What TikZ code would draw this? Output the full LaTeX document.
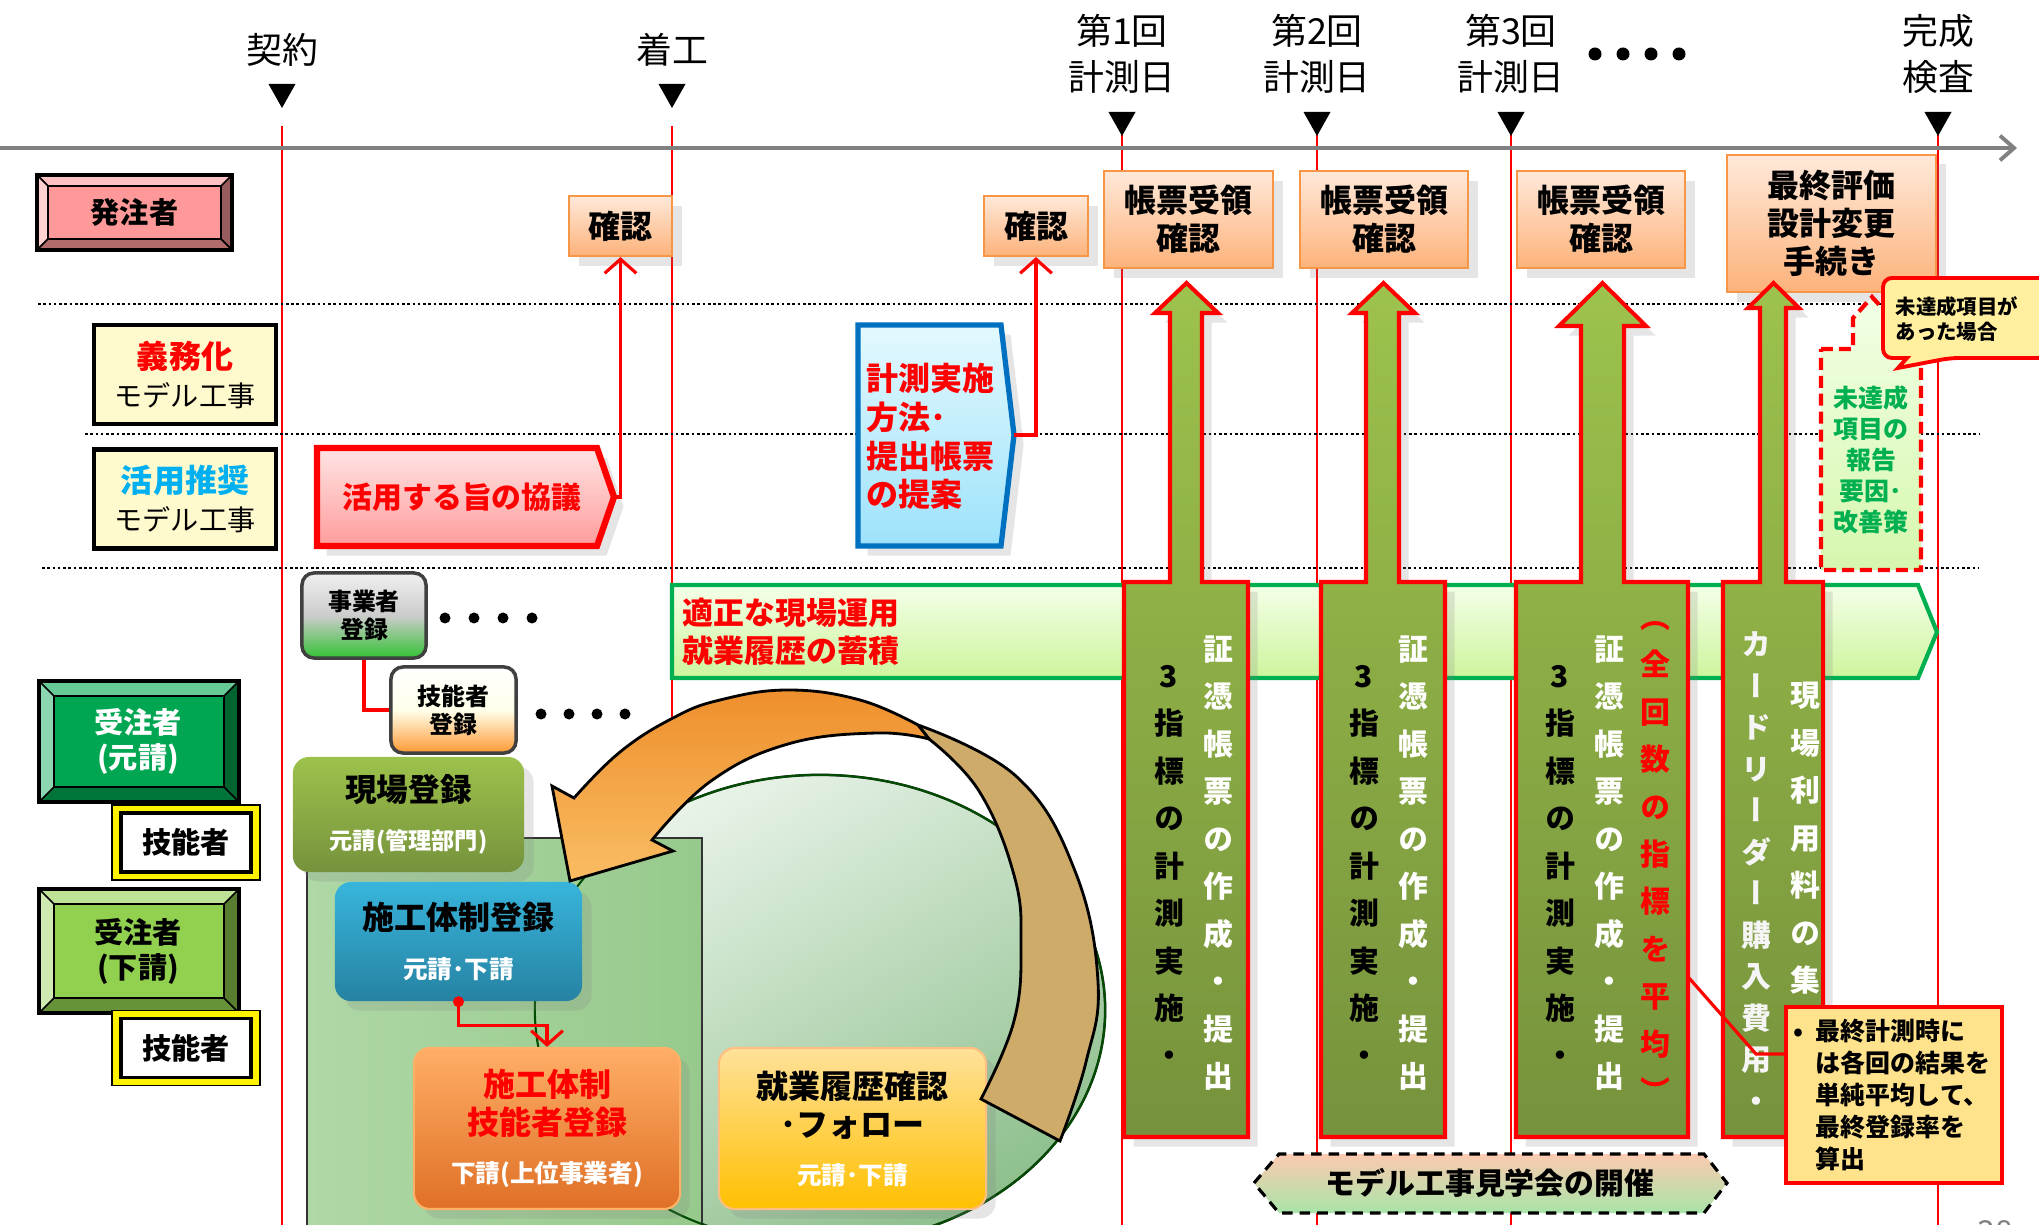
\documentclass[tikz,border=0pt]{standalone}
\usepackage{fontspec}
\setmainfont{Noto Sans CJK JP}
\newfontfamily\vjp{Noto Sans CJK JP}[RawFeature=+vert]
\usetikzlibrary{positioning,arrows.meta,shadows}

\definecolor{tlgray}{HTML}{808080}
\definecolor{hpink}{HTML}{FF9999}
\definecolor{jgreen}{HTML}{00A651}
\definecolor{sgreen}{HTML}{92D050}
\definecolor{modelyel}{HTML}{FFFACD}
\definecolor{skyblue}{HTML}{00B0F0}
\definecolor{peachtop}{HTML}{FFE9DA}
\definecolor{peachbot}{HTML}{FDB27A}
\definecolor{peachedge}{HTML}{F79646}
\definecolor{pinktop}{HTML}{FFE4E4}
\definecolor{pinkbot}{HTML}{FF9C9C}
\definecolor{cyantop}{HTML}{E4F9FF}
\definecolor{cyanbot}{HTML}{9DE2FA}
\definecolor{blueedge}{HTML}{0070C0}
\definecolor{limetop}{HTML}{F4FFE8}
\definecolor{limebot}{HTML}{CDF59C}
\definecolor{limeedge}{HTML}{00B050}
\definecolor{olivetop}{HTML}{9DC24C}
\definecolor{olivebot}{HTML}{76923C}
\definecolor{notefill}{HTML}{FFE38C}
\definecolor{callfill}{HTML}{FFEF9E}
\definecolor{mitop}{HTML}{F2FFE6}
\definecolor{mibot}{HTML}{D6F7AE}
\definecolor{ellwhite}{HTML}{EAF4EA}
\definecolor{ellgreen}{HTML}{8DBF8C}
\definecolor{recttop}{HTML}{AED8A6}
\definecolor{rectbot}{HTML}{97C98C}
\definecolor{oratop}{HTML}{EE8F2C}
\definecolor{orabot}{HTML}{FABD63}
\definecolor{tanfill}{HTML}{CEAB69}
\definecolor{hextop}{HTML}{FCCAB0}
\definecolor{hexbot}{HTML}{A8E4A8}
\definecolor{sekoutop}{HTML}{38B5DC}
\definecolor{sekoubot}{HTML}{2682A2}
\definecolor{kenjtop}{HTML}{FFAE66}
\definecolor{kenjbot}{HTML}{DF7026}
\definecolor{shugtop}{HTML}{FFE19A}
\definecolor{shugbot}{HTML}{FFC000}

% beveled box: x1 y1 x2 y2 bevel colour
\newcommand\bevelbox[6]{%
  \fill[#6!60!white] (#1,#2) -- (#3,#2) -- (#3-#5,#2+#5) -- (#1+#5,#2+#5) -- cycle;
  \fill[#6!70!black] (#1,#4) -- (#3,#4) -- (#3-#5,#4-#5) -- (#1+#5,#4-#5) -- cycle;
  \fill[#6!45!white] (#1,#2) -- (#1+#5,#2+#5) -- (#1+#5,#4-#5) -- (#1,#4) -- cycle;
  \fill[#6!60!black] (#3,#2) -- (#3-#5,#2+#5) -- (#3-#5,#4-#5) -- (#3,#4) -- cycle;
  \draw[line width=1.3pt] (#1,#2) rectangle (#3,#4);
  \draw[line width=0.8pt, fill=#6] (#1+#5,#2+#5) rectangle (#3-#5,#4-#5);
  \draw[line width=0.5pt] (#1,#2) -- (#1+#5,#2+#5) (#3,#2) -- (#3-#5,#2+#5)
    (#1,#4) -- (#1+#5,#4-#5) (#3,#4) -- (#3-#5,#4-#5);
}

\begin{document}
\begin{tikzpicture}[x=0.01cm, y=-0.01cm,
    every node/.style={inner sep=0pt},
    redline/.style={red, line width=0.35pt},
    dotline/.style={line width=0.75pt, dash pattern=on 0.75pt off 0.75pt},
    hdlabel/.style={align=center, font=\fontsize{10.2}{13.1}\selectfont},
    redconn/.style={red, line width=0.9pt},
    redarrow/.style={redconn, -{Straight Barb[length=4pt,width=9pt]}},
    peachbox/.style={draw=peachedge, line width=0.6pt, top color=peachtop, bottom color=peachbot,
      align=center, font=\bfseries\fontsize{9.1}{10.8}\selectfont, drop shadow={opacity=0.2}},
    modelbox/.style={draw, line width=1.2pt, fill=modelyel, minimum width=1.82cm, minimum height=0.99cm,
      align=center, font=\bfseries\fontsize{8}{10.8}\selectfont},
    ginouout/.style={draw, line width=0.4pt, fill=yellow, minimum width=1.48cm, minimum height=0.75cm},
    ginouin/.style={draw, line width=1pt, fill=white, minimum width=1.30cm, minimum height=0.59cm,
      font=\bfseries\fontsize{8.3}{10}\selectfont},
    bigarrow/.style={draw=red, line width=1.15pt, top color=olivetop, bottom color=olivebot,
      drop shadow={opacity=0.2}},
    vtext/.style={align=center, font=\vjp\bfseries\fontsize{8.5}{13.5}\selectfont},
    regbox/.style={rounded corners=0.12cm, draw=black!75, line width=1pt, align=center,
      font=\bfseries\fontsize{6.8}{8}\selectfont},
    flowbox/.style={rounded corners=0.16cm, align=center, drop shadow={opacity=0.2}}]

\fill[white] (0,0) rectangle (2039,1225);
\useasboundingbox (0,0) rectangle (2039,1225);

% time axis
\foreach \x/\t in {282/126, 672/126, 1122/132, 1317/132, 1511/132, 1938/132}
  \draw[redline] (\x,\t) -- (\x,1225);
\draw[dotline] (38,304) -- (1990,304);
\draw[dotline] (85,434) -- (1979,434);
\draw[dotline] (42,568) -- (1979,568);
\draw[tlgray, line width=1.1pt, -{Straight Barb[length=4pt,width=7pt]}] (0,148) -- (2017,148);
\foreach \x/\t in {282/84, 672/84, 1122/112, 1317/112, 1511/112, 1938/112}
  \fill (\x-13.5,\t) -- (\x+13.5,\t) -- (\x,\t+24) -- cycle;
\node[hdlabel] (keiyaku) at (282,50) {契約};
\node[hdlabel] (chakko) at (672,50) {着工};
\node[hdlabel] (day1) at (1122,54) {第1回\\計測日};
\node[hdlabel] (day2) at (1317,54) {第2回\\計測日};
\node[hdlabel] (day3) at (1511,54) {第3回\\計測日};
\node[hdlabel] (kansei) at (1938,54) {完成\\検査};
\foreach \x in {1595,1623,1651,1679} \fill (\x,54) circle (0.065cm);

% left column
\bevelbox{37}{175}{232}{250}{11}{hpink}
\node[font=\bfseries\fontsize{8.3}{10}\selectfont] (hacchu) at (134.5,212.5) {発注者};
\node[modelbox] (gimu) at (185,374.5) {\textcolor{red}{\fontsize{9.1}{10.8}\selectfont 義務化}\\\mdseries モデル工事};
\node[modelbox] (suisho) at (185,499) {\textcolor{skyblue}{\fontsize{9.1}{10.8}\selectfont 活用推奨}\\\mdseries モデル工事};
\bevelbox{39}{681}{239}{802}{15}{jgreen}
\node[text=white, align=center, font=\bfseries\fontsize{8.3}{10}\selectfont] (motouke) at (138,741) {受注者\\(元請)};
\bevelbox{39}{889}{239}{1013}{15}{sgreen}
\node[align=center, font=\bfseries\fontsize{8.3}{10}\selectfont] (shitauke) at (138,951) {受注者\\(下請)};
\node[ginouout] (ginou1o) at (186,842.5) {};
\node[ginouin] (ginou1) at (186,842.5) {技能者};
\node[ginouout] (ginou2o) at (186,1048) {};
\node[ginouin] (ginou2) at (186,1048) {技能者};

% owner checks
\node[peachbox, minimum width=1.03cm, minimum height=0.60cm] (kakunin1) at (620.5,226) {確認};
\node[peachbox, minimum width=1.04cm, minimum height=0.60cm] (kakunin2) at (1036,226) {確認};
\node[peachbox, minimum width=1.69cm, minimum height=0.97cm] (juryo1) at (1188.5,219.5) {帳票受領\\確認};
\node[peachbox, minimum width=1.68cm, minimum height=0.97cm] (juryo2) at (1384,219.5) {帳票受領\\確認};
\node[peachbox, minimum width=1.68cm, minimum height=0.97cm] (juryo3) at (1601,219.5) {帳票受領\\確認};
\node[peachbox, minimum width=2.09cm, minimum height=1.37cm] (saishu) at (1831.5,223.5) {最終評価\\設計変更\\手続き};

% proposals
\path[draw=red, line width=1.8pt, top color=pinktop, bottom color=pinkbot, drop shadow={opacity=0.2}]
  (317,448) -- (597,448) -- (614,497) -- (597,546) -- (317,546) -- cycle;
\coordinate (kyogiTip) at (614,497);
\node[text=red, font=\bfseries\fontsize{8.5}{10}\selectfont] (kyogi) at (462,497) {活用する旨の協議};
\draw[redarrow] (kyogiTip) -| (kakunin1.south);
\path[draw=blueedge, line width=1.5pt, top color=cyantop, bottom color=cyanbot, drop shadow={opacity=0.2}]
  (858,325) -- (1001,325) -- (1014,435) -- (1001,546) -- (858,546) -- cycle;
\coordinate (teianTip) at (1014,435);
\node[anchor=west, text=red, align=left, font=\bfseries\fontsize{9.1}{11}\selectfont] (teian) at (866,436.5) {計測実施\\方法･\\提出帳票\\の提案};
\draw[redarrow] (teianTip) -| (kakunin2.south);

% site operation band
\path[draw=limeedge, line width=1.2pt, top color=limetop, bottom color=limebot]
  (672,585) -- (1918,585) -- (1937,632) -- (1918,678) -- (672,678) -- cycle;
\node[anchor=west, text=red, align=left, font=\bfseries\fontsize{8.8}{10.8}\selectfont] (tekisei) at (682,632) {適正な現場運用\\就業履歴の蓄積};

% measurement arrows
\foreach \bl/\br/\sl/\sr/\hl/\hr/\hb in {1124/1248/1170/1202/1155/1218/313,
    1321/1445/1366/1399/1352/1415/313, 1516/1688/1581/1624/1559/1646/326,
    1723/1823/1760/1786/1748/1799/308}
  \draw[bigarrow] (\bl,1137) -- (\bl,582) -- (\sl,582) -- (\sl,\hb) -- (\hl,\hb)
    -- ({(\hl+\hr)/2},283) -- (\hr,\hb) -- (\sr,\hb) -- (\sr,582) -- (\br,582) -- (\br,1137) -- cycle;
\node[vtext] (keisoku1) at (1169,866) {3\\指\\標\\の\\計\\測\\実\\施\\・};
\node[vtext, text=white] (shoshu1) at (1218,863) {証\\憑\\帳\\票\\の\\作\\成\\・\\提\\出};
\node[vtext] (keisoku2) at (1364,866) {3\\指\\標\\の\\計\\測\\実\\施\\・};
\node[vtext, text=white] (shoshu2) at (1413,863) {証\\憑\\帳\\票\\の\\作\\成\\・\\提\\出};
\node[vtext] (keisoku3) at (1560,866) {3\\指\\標\\の\\計\\測\\実\\施\\・};
\node[vtext, text=white] (shoshu3) at (1609,863) {証\\憑\\帳\\票\\の\\作\\成\\・\\提\\出};
\node[vtext, text=red] (heikin) at (1655,862) {（\\全\\回\\数\\の\\指\\標\\を\\平\\均\\）};
\node[vtext, text=white!92!gray, font=\vjp\bfseries\fontsize{8.5}{11.8}\selectfont] (cardr) at (1756,872) {カ\\ー\\ド\\リ\\ー\\ダ\\ー\\購\\入\\費\\用\\・};
\node[vtext, text=white] (riyoryo) at (1805,838.5) {現\\場\\利\\用\\料\\の\\集};

% unmet items
\draw[red, line width=1.2pt, dash pattern=on 3.4pt off 1.7pt, top color=mitop, bottom color=mibot]
  (1821,349) -- (1853,349) -- (1853,318) -- (1872,297) -- (1895,322) -- (1895,349)
  -- (1921,349) -- (1921,570) -- (1821,570) -- cycle;
\node[text=limeedge, align=center, font=\bfseries\fontsize{7.1}{8.8}\selectfont] (hokoku) at (1871,460) {未達成\\項目の\\報告\\要因･\\改善策};
\draw[red, line width=1.1pt, fill=callfill, rounded corners=0.09cm]
  (1883,278) -- (2060,278) -- (2060,358) -- (1950,358) [sharp corners] -- (1898,368) -- (1907,358)
  [rounded corners=0.09cm] -- (1883,358) -- cycle;
\node[anchor=west, align=left, font=\bfseries\fontsize{5.8}{7.1}\selectfont] (miTassei) at (1895,319) {未達成項目が\\あった場合};

% averaging note
\node[draw=red, line width=1pt, fill=notefill, minimum width=2.16cm, minimum height=1.76cm] (note) at (1894,1095) {};
\node[anchor=west, align=left, font=\bfseries\fontsize{7.1}{9.05}\selectfont] (notetxt) at ([xshift=0.31cm]note.west) {\llap{•\hspace{0.12cm}}最終計測時に\\は各回の結果を\\単純平均して、\\最終登録率を\\算出};
\coordinate (avgPt) at (1689,978);
\draw[redconn] (avgPt) -- (1756,1054) -- (note.west |- 0,1054);

% site tour
\draw[line width=0.9pt, dash pattern=on 3pt off 2pt, top color=hextop, bottom color=hexbot]
  (1254,1183) -- (1279,1154) -- (1704,1154) -- (1727,1183) -- (1704,1213) -- (1279,1213) -- cycle;
\node[font=\bfseries\fontsize{8.5}{10}\selectfont] (kengaku) at (1490,1183) {モデル工事見学会の開催};

% registration cycle
\draw[black!85, line width=0.7pt, top color=ellwhite, bottom color=ellgreen, shading angle=30]
  (820,1010) ellipse [x radius=2.85cm, y radius=2.35cm];
\draw[black!80, line width=0.6pt, left color=recttop, right color=rectbot] (307,838) rectangle (702,1240);
\draw[green!30!black, line width=0.6pt] (820,1010) ellipse [x radius=2.85cm, y radius=2.35cm];

\node[regbox, minimum width=1.24cm, minimum height=0.85cm, top color=gray!12, bottom color=green!70!black!80, middle color=gray!40] (jigyo) at (364,615.5) {事業者\\登録};
\foreach \x in {445,474,503,532} \fill (\x,618) circle (0.055cm);
\node[regbox, minimum width=1.25cm, minimum height=0.86cm, top color=white, bottom color=orange!80, middle color=yellow!8] (ginouReg) at (453.5,710) {技能者\\登録};
\foreach \x in {541,569,597,625} \fill (\x,714) circle (0.055cm);
\draw[redconn] (jigyo.south) |- (ginouReg.west);

\node[flowbox, minimum width=2.31cm, minimum height=1.15cm, top color=olivetop, bottom color=olivebot,
  font=\bfseries\fontsize{9}{13.5}\selectfont] (genba) at (408.5,814.5) {現場登録\\{\color{white}\fontsize{6.6}{7}\selectfont 元請(管理部門)}};
\node[flowbox, minimum width=2.47cm, minimum height=1.19cm, top color=sekoutop, bottom color=sekoubot,
  font=\bfseries\fontsize{9.1}{13.9}\selectfont] (sekou) at (458.5,941.5) {施工体制登録\\{\color{white}\fontsize{7}{7}\selectfont 元請･下請}};
\node[flowbox, draw=orange!60, line width=0.6pt, minimum width=2.66cm, minimum height=1.61cm, top color=kenjtop, bottom color=kenjbot,
  text=red, font=\bfseries\fontsize{9.1}{10.8}\selectfont] (sekouGinou) at (547,1128.5) {施工体制\\技能者登録\\[0.1cm]{\color{white}\fontsize{7}{7}\selectfont 下請(上位事業者)}};
\node[flowbox, draw=orange!50, line width=0.6pt, minimum width=2.67cm, minimum height=1.61cm, top color=shugtop, bottom color=shugbot,
  font=\bfseries\fontsize{9.1}{10.8}\selectfont] (shugyo) at (852.5,1128.5) {就業履歴確認\\･フォロー\\[0.1cm]{\color{white}\fontsize{7}{7}\selectfont 元請･下請}};
\fill[red] (sekou.south) circle (0.055cm);
\draw[redarrow] (sekou.south) -- ++(0,24) -| (sekouGinou.north);

\draw[black, line width=0.8pt, fill=tanfill]
  plot[smooth, tension=0.7] coordinates {(918,725) (1017,777) (1075,871) (1098,982) (1086,1062) (1060,1141)}
  -- plot[smooth, tension=0.7] coordinates {(981,1099) (1014,1021) (1021,944) (1014,875) (979,791) (929,739)} -- cycle;
\draw[black, line width=0.8pt, top color=oratop, bottom color=orabot]
  plot[smooth, tension=0.7] coordinates {(918,725) (860,700) (788,690) (720,700) (673,718) (620,752) (574,798)}
  -- (552,786) -- (570,881) -- (673,851) -- (652,840)
  -- plot[smooth, tension=0.7] coordinates {(652,840) (711,781) (788,744) (876,733) (929,739)} -- cycle;

\node[text=gray, font=\fontsize{9}{9}\selectfont] (pageno) at (1995,1232) {38};
\end{tikzpicture}
\end{document}
